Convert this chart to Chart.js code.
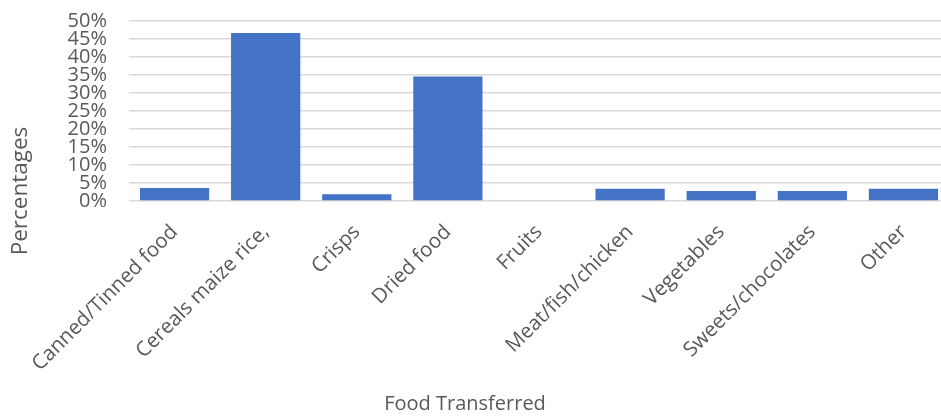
<!DOCTYPE html>
<html>
<head>
<meta charset="utf-8">
<script src="https://cdn.jsdelivr.net/npm/chart.js@4.4.0/dist/chart.umd.min.js"></script>
<style>
    html, body { margin: 0; padding: 0; background: #fff; overflow: hidden; }
    #wrap { width: 949px; height: 416px; position: relative; }
</style>
</head>
<body>
<div id="wrap"><canvas id="foodChart"></canvas></div>
<script>
var categories = ["Canned/Tinned food", "Cereals maize rice,", "Crisps", "Dried food", "Fruits",
    "Meat/fish/chicken", "Vegetables", "Sweets/chocolates", "Other"];
var percentages = [3.6, 46.7, 1.9, 34.6, 0, 3.4, 2.8, 2.8, 3.4];
var yTicks = [0, 5, 10, 15, 20, 25, 30, 35, 40, 45, 50];
var xTitle = "Food Transferred";
var yTitle = "Percentages";

var labelColor = "#595959";

// axis titles placed like the original (not centred on the plot)
var titlesPlugin = {
    id: "titles",
    afterDraw: function (chart) {
        var ctx = chart.ctx;
        ctx.save();
        ctx.fillStyle = labelColor;
        ctx.font = "20px 'Open Sans'";
        ctx.textAlign = "center";
        ctx.textBaseline = "middle";
        ctx.fillText(xTitle, 465, 404);
        ctx.translate(21, 191);
        ctx.rotate(-Math.PI / 2);
        ctx.font = "22.5px 'Open Sans'";
        ctx.fillText(yTitle, 0, 0);
        ctx.restore();
    }
};

var ctx = document.getElementById("foodChart").getContext("2d");
var chart = new Chart(ctx, {
    type: "bar",
    data: {
        labels: categories,
        datasets: [
            {
                label: yTitle,
                backgroundColor: "#4472C4",
                borderWidth: 0,
                data: percentages,
                barPercentage: 0.76,
                categoryPercentage: 1,
            },
        ],
    },
    options: {
        responsive: true,
        maintainAspectRatio: false,
        animation: false,
        layout: { padding: { top: 21, left: 0, right: 0, bottom: 0 } },
        plugins: {
            legend: { display: false },
            tooltip: { enabled: false },
        },
        scales: {
            x: {
                grid: { display: false },
                border: { display: false },
                ticks: {
                    color: labelColor,
                    font: { family: "'Open Sans'", size: 20.5 },
                    maxRotation: 45,
                    minRotation: 45,
                    autoSkip: false,
                    padding: 11,
                },
                afterFit: function (scale) {
                    scale.height = 215;
                    scale.paddingTop = 0;
                    scale.paddingBottom = 0;
                },
            },
            y: {
                min: 0,
                max: 50,
                afterBuildTicks: function (scale) {
                    scale.ticks = yTicks.map(function (v) { return { value: v }; });
                },
                grid: { color: "#d9d9d9", lineWidth: 1.5, drawTicks: false },
                border: { display: false },
                ticks: {
                    color: labelColor,
                    font: { family: "'Open Sans'", size: 20, lineHeight: 1 },
                    autoSkip: false,
                    padding: 22,
                    callback: function (v) { return v + "%"; },
                },
                afterFit: function (scale) {
                    scale.width = 129;
                    scale.paddingTop = 0;
                    scale.paddingBottom = 0;
                },
            },
        },
    },
    plugins: [titlesPlugin],
});
</script>
</body>
</html>
